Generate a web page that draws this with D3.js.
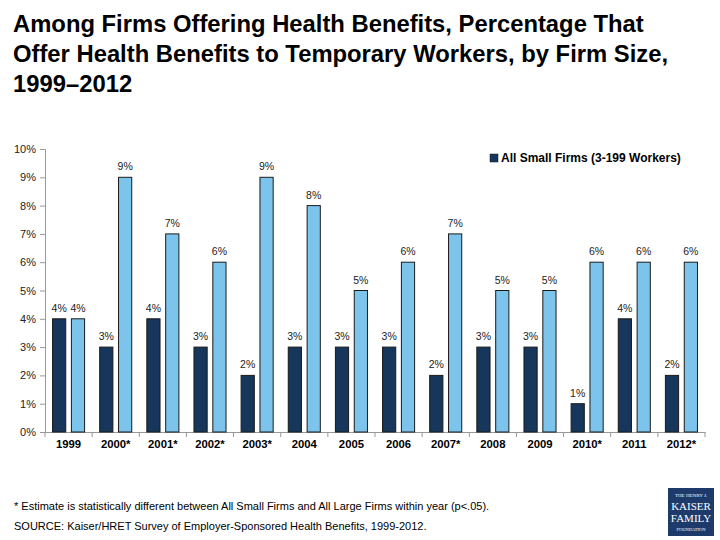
<!DOCTYPE html>
<html><head><meta charset="utf-8">
<script src="https://cdn.jsdelivr.net/npm/d3@7/dist/d3.min.js"></script>
<style>body{margin:0;background:#fff;}svg{display:block;font-family:"Liberation Sans",Arial,sans-serif;}</style>
</head><body>
<svg id="c" width="720" height="540"></svg>
<script>
const years = ["1999","2000*","2001*","2002*","2003*","2004","2005","2006","2007*","2008","2009","2010*","2011","2012*"];
const smallFirms = [4,3,4,3,2,3,3,3,2,3,3,1,4,2];
const largeFirms = [4,9,7,6,9,8,5,6,7,5,5,6,6,6];
const yTicks = [0,1,2,3,4,5,6,7,8,9,10];
const seriesNames = ["All Small Firms (3-199 Workers)","All Large Firms (200+ Workers)"];
const colors = ["#16365c","#7cc4ec"];

const svg = d3.select("#c");
const m = {l:45, r:705, t:149, b:432};
const x = d3.scaleBand().domain(years).range([m.l, m.r]).paddingInner(0).paddingOuter(0);
const y = d3.scaleLinear().domain([0,10]).range([m.b, m.t]);
const sub = d3.scaleBand().domain([0,1]).range([0, x.bandwidth()]).paddingInner(0.3).paddingOuter(0.4);

// title
const title = ["Among Firms Offering Health Benefits, Percentage That","Offer Health Benefits to Temporary Workers, by Firm Size,","1999–2012"];
svg.append("g").selectAll("text").data(title).join("text")
  .attr("x",13).attr("y",(d,i)=>32+i*30)
  .attr("font-size",23.8).attr("font-weight","bold").attr("fill","#000").text(d=>d);

// y axis
const ya = svg.append("g").attr("transform",`translate(${m.l},0)`)
  .call(d3.axisLeft(y).tickValues(yTicks).tickFormat(d=>d+"%").tickSize(5).tickPadding(4));
ya.select(".domain").attr("stroke","#999");
ya.selectAll(".tick line").attr("stroke","#999");
ya.selectAll(".tick text").attr("font-size",11).attr("fill","#222").attr("font-family","Liberation Sans, Arial, sans-serif");

// x axis
const xa = svg.append("g").attr("transform",`translate(0,${m.b})`)
  .call(d3.axisBottom(x).tickSize(0).tickPadding(8));
xa.select(".domain").attr("stroke","#999");
xa.selectAll(".tick text").attr("font-size",11.3).attr("font-weight","bold").attr("fill","#000").attr("font-family","Liberation Sans, Arial, sans-serif");
svg.append("g").selectAll("line").data(d3.range(years.length+1)).join("line")
  .attr("x1",i=>m.l+i*x.step()).attr("x2",i=>m.l+i*x.step())
  .attr("y1",m.b).attr("y2",m.b+5).attr("stroke","#999");

// bars
const series = [smallFirms, largeFirms];
series.forEach((vals,si)=>{
  const g = svg.append("g");
  g.selectAll("rect").data(vals).join("rect")
    .attr("x",(d,i)=>x(years[i])+sub(si))
    .attr("width",sub.bandwidth())
    .attr("y",d=>y(d)).attr("height",d=>y(0)-y(d))
    .attr("fill",colors[si]).attr("stroke","#1a1a1a").attr("stroke-width",1);
  g.selectAll("text").data(vals).join("text")
    .attr("x",(d,i)=>x(years[i])+sub(si)+sub.bandwidth()/2)
    .attr("y",d=>y(d)-7)
    .attr("text-anchor","middle").attr("font-size",10.5).attr("fill","#222")
    .text(d=>d+"%");
});

// legend
svg.append("rect").attr("x",490).attr("y",154).attr("width",8).attr("height",8).attr("fill",colors[0]).attr("stroke","#1a1a1a").attr("stroke-width",0.5);
svg.append("text").attr("x",501).attr("y",162).attr("font-size",12).attr("font-weight","bold").attr("fill","#000").text(seriesNames[0]);

// footnotes
svg.append("text").attr("x",14).attr("y",510).attr("font-size",11).attr("fill","#000")
  .text("* Estimate is statistically different between All Small Firms and All Large Firms within year (p<.05).");
svg.append("text").attr("x",14).attr("y",530).attr("font-size",11).attr("fill","#000")
  .text("SOURCE:  Kaiser/HRET Survey of Employer-Sponsored Health Benefits, 1999-2012.");

// logo
const lg = svg.append("g").attr("transform","translate(668,488)");
lg.append("rect").attr("width",46).attr("height",48).attr("fill","#1d3a6b");
const lt = [["THE HENRY J.",5,9],["KAISER",11,22],["FAMILY",11,34],["FOUNDATION",4.5,43]];
lg.selectAll("text").data(lt).join("text").attr("x",23).attr("y",d=>d[2]).attr("text-anchor","middle")
  .attr("font-family","Liberation Serif, serif").attr("font-size",d=>d[1]).attr("fill","#fff").text(d=>d[0]);
</script>
</body></html>
